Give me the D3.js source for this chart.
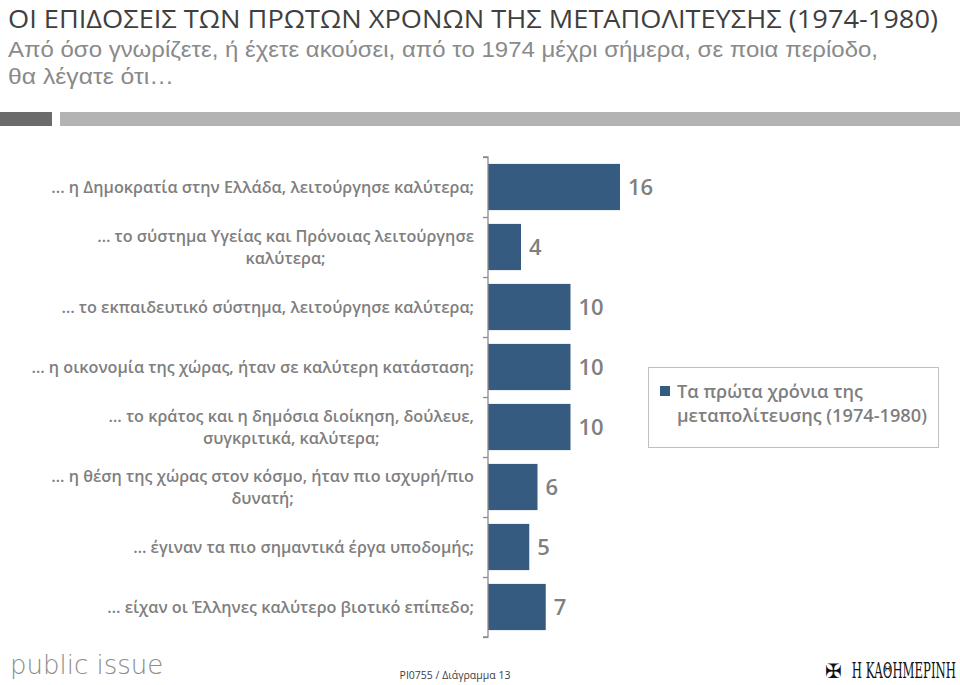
<!DOCTYPE html>
<html><head><meta charset="utf-8">
<script src="https://cdn.jsdelivr.net/npm/d3@7"></script>
<style>body{margin:0;background:#fff}svg{display:block}</style>
</head><body>
<svg id="c" width="960" height="685"></svg>
<script>
const categories = [
  ["... η Δημοκρατία στην Ελλάδα, λειτούργησε καλύτερα;"],
  ["… το σύστημα Υγείας και Πρόνοιας  λειτούργησε", "καλύτερα;"],
  ["… το εκπαιδευτικό σύστημα, λειτούργησε καλύτερα;"],
  ["… η οικονομία της χώρας, ήταν σε καλύτερη κατάσταση;"],
  ["… το κράτος και η δημόσια διοίκηση, δούλευε,", "συγκριτικά, καλύτερα;"],
  ["… η θέση της χώρας στον κόσμο,  ήταν πιο ισχυρή/πιο", "δυνατή;"],
  ["… έγιναν τα πιο σημαντικά έργα υποδομής;"],
  ["… είχαν οι Έλληνες καλύτερο βιοτικό επίπεδο;"]
];
const values = [16, 4, 10, 10, 10, 6, 5, 7];
const seriesName = ["Τα πρώτα χρόνια της", "μεταπολίτευσης (1974-1980)"];
const titleText = "ΟΙ ΕΠΙΔΟΣΕΙΣ ΤΩΝ ΠΡΩΤΩΝ ΧΡΟΝΩΝ ΤΗΣ ΜΕΤΑΠΟΛΙΤΕΥΣΗΣ (1974-1980)";
const subtitleLines = ["Από όσο γνωρίζετε, ή έχετε ακούσει, από το 1974 μέχρι σήμερα, σε ποια περίοδο,", "θα λέγατε ότι…"];

const svg = d3.select("#c");
const font = "'Open Sans', 'Noto Sans', sans-serif";
const subFont = "'Liberation Sans', Arial, sans-serif";
const barColor = "#365b80";

// Title
svg.append("text").attr("x", 8).attr("y", 28).attr("font-family", font)
  .attr("font-size", 26).attr("fill", "#3f3f3f")
  .attr("textLength", 930).attr("lengthAdjust", "spacingAndGlyphs").text(titleText);
svg.append("text").attr("x", 8).attr("y", 57).attr("font-family", subFont)
  .attr("font-size", 22.5).attr("fill", "#8a8a8a")
  .attr("textLength", 870).attr("lengthAdjust", "spacingAndGlyphs").text(subtitleLines[0]);
svg.append("text").attr("x", 8).attr("y", 84).attr("font-family", subFont)
  .attr("font-size", 22.5).attr("fill", "#8a8a8a")
  .attr("textLength", 166).attr("lengthAdjust", "spacingAndGlyphs").text(subtitleLines[1]);

// gray band
svg.append("rect").attr("x", 0).attr("y", 112).attr("width", 52).attr("height", 14).attr("fill", "#6b6b6b");
svg.append("rect").attr("x", 60).attr("y", 112).attr("width", 900).attr("height", 14).attr("fill", "#b3b3b3");

// scales
const x0 = 488;
const y = d3.scaleBand().domain(d3.range(values.length)).range([157, 637]).paddingInner(0.23).paddingOuter(0.115);
const x = d3.scaleLinear().domain([0, 20]).range([0, 165]);

const g = svg.append("g");
g.selectAll("rect.bar").data(values).join("rect").attr("class", "bar")
  .attr("x", x0).attr("y", (d, i) => y(i)).attr("width", d => x(d)).attr("height", y.bandwidth())
  .attr("fill", barColor);

// axis
const axisScale = d3.scaleLinear().domain([0, values.length]).range([157, 637]);
const axis = d3.axisLeft(axisScale).tickValues(d3.range(values.length + 1)).tickSize(5).tickFormat("");
const ag = svg.append("g").attr("transform", `translate(${x0},0)`).call(axis);
ag.selectAll("path,line").attr("stroke", "#8c8c8c").attr("stroke-width", 1.3);
ag.select("path").attr("d", "M-5,157H0V637H-5");

// value labels
g.selectAll("text.val").data(values).join("text").attr("class", "val")
  .attr("x", d => x0 + x(d) + 8).attr("y", (d, i) => y(i) + y.bandwidth() / 2 + 8)
  .attr("font-family", font).attr("font-size", 22).attr("font-weight", 600).attr("fill", "#7f7f7f")
  .text(d => d);

// category labels
const right = 474;
categories.forEach((lines, i) => {
  const cy = y(i) + y.bandwidth() / 2;
  const lh = 22;
  const t = svg.append("text").attr("font-family", font).attr("font-size", 16.2)
    .attr("font-weight", 600).attr("fill", "#7f7f7f");
  const tsp = lines.map((l, j) => t.append("tspan").attr("y", cy + 5.5 + (j - (lines.length - 1) / 2) * lh).text(l));
  const w = d3.max(tsp, s => s.node().getComputedTextLength());
  const cx = right - w / 2;
  tsp.forEach(s => s.attr("x", cx).attr("text-anchor", "middle"));
});

// legend
svg.append("rect").attr("x", 648.5).attr("y", 367.5).attr("width", 290).attr("height", 80)
  .attr("fill", "#fff").attr("stroke", "#c0c0c0");
svg.append("rect").attr("x", 660).attr("y", 386).attr("width", 10).attr("height", 10).attr("fill", barColor);
seriesName.forEach((s, j) => {
  svg.append("text").attr("x", 677).attr("y", 398 + j * 24).attr("font-family", font)
    .attr("font-size", 18.2).attr("font-weight", 600).attr("fill", "#7f7f7f").text(s);
});

// footer
svg.append("text").attr("x", 10).attr("y", 674).attr("font-family", "'DejaVu Sans', sans-serif")
  .attr("font-size", 26).attr("font-weight", 300).attr("fill", "#8c8c8c").text("public issue");
svg.append("text").attr("x", 455).attr("y", 679).attr("text-anchor", "middle").attr("font-family", font)
  .attr("font-size", 10.5).attr("fill", "#404040").text("PI0755 / Διάγραμμα 13");
svg.append("text").attr("x", 825).attr("y", 678).attr("font-family", "'DejaVu Sans', sans-serif")
  .attr("font-size", 20).attr("font-weight", 700).attr("fill", "#111").text("✠");
const kb = svg.append("text").attr("x", 956).attr("y", 678).attr("text-anchor", "end")
  .attr("font-family", "'DejaVu Serif Condensed', 'Liberation Serif', serif")
  .attr("font-size", 13).attr("fill", "#111")
  .attr("transform", `translate(0,${678 - 678 * 1.75}) scale(1,1.75)`)
  .text("Η ΚΑΘΗΜΕΡΙΝΗ");
</script>
</body></html>
